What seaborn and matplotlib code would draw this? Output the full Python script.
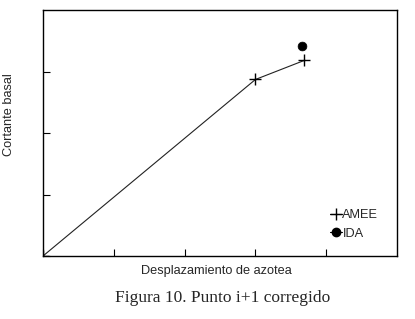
import matplotlib
matplotlib.use("Agg")
import matplotlib.pyplot as plt
import seaborn as sns
import pandas as pd
from matplotlib.lines import Line2D

amee_x = [0.0, 3.0, 3.69]
amee_y = [0.0, 2.87, 3.18]
ida_x = [3.66]
ida_y = [3.41]

sns.set_style("ticks")
plt.rcParams['font.family'] = ['Liberation Sans', 'DejaVu Sans']

fig = plt.figure(figsize=(4.15, 3.19), dpi=100)
ax = fig.add_axes([43/415, 1-256/319, (397-43)/415, (256-10)/319])

sns.lineplot(x=amee_x, y=amee_y, ax=ax, color='#222222', lw=0.8,
             marker='+', markersize=9, markeredgewidth=1.0, markeredgecolor='black')
sns.scatterplot(x=ida_x, y=ida_y, ax=ax, color='black', s=40, edgecolor='black')

ax.set_xlim(0, 5)
ax.set_ylim(0, 4)
ax.set_xticks([0, 1, 2, 3, 4])
ax.set_yticks([0, 1, 2, 3])
ax.set_xticklabels([])
ax.set_yticklabels([])
ax.tick_params(direction='in', length=5, width=0.8, color='black')
for s in ax.spines.values():
    s.set_linewidth(1.0)
    s.set_color('black')

ax.set_xlabel("Desplazamiento de azotea", fontsize=9.2)
ax.set_ylabel("Cortante basal", fontsize=9.2)
ax.xaxis.set_label_coords((166 - 43) / 354 + 0.0, -(271 - 256) / 246, transform=ax.transAxes)
ax.xaxis.label.set_ha('center')
ax.xaxis.label.set_va('center')
ax.xaxis.set_label_coords((216 - 43) / 354, -(271 - 256) / 246)
ax.yaxis.set_label_coords(-(43 - 9) / 354, (256 - 115) / 246)
ax.yaxis.label.set_va('center')

handles = [Line2D([], [], color='black', lw=0.8, marker='+', markersize=9),
           Line2D([], [], color='black', lw=0.8, marker='o', markersize=6)]
ax.legend(handles, ["AMEE", "IDA"], loc='lower right', bbox_to_anchor=(0.98, 0.02),
          frameon=False, fontsize=9.2, handlelength=1.0, handletextpad=0.0,
          labelspacing=0.5)

fig.text(223/415, 1-298/319, "Figura 10. Punto i+1 corregido", ha='center', va='center',
         fontsize=12.5, family=['Liberation Serif'])

fig.savefig("out.png", dpi=100)
